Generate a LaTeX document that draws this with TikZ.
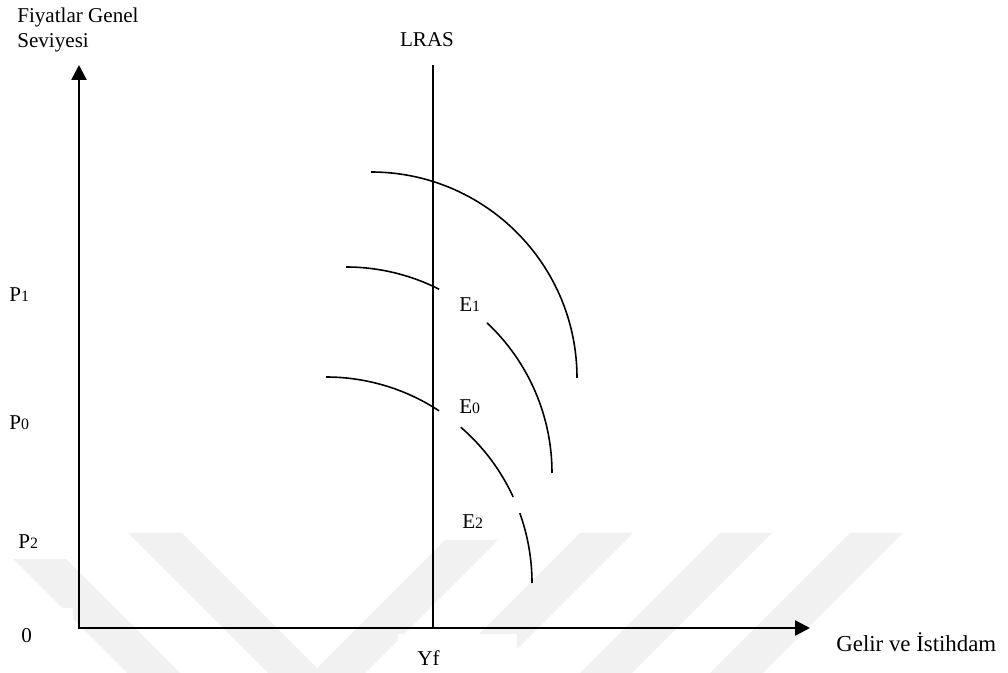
\documentclass[tikz,border=0pt]{standalone}
\usepackage{fontspec}
\setmainfont{Liberation Serif}
\usepackage{tikz}
\usetikzlibrary{arrows.meta}
\definecolor{wmgray}{RGB}{241,241,241}
\newcommand{\idx}[1]{{\fontsize{9}{10}\selectfont #1}}

\begin{document}
\begin{tikzpicture}[
  axisline/.style={line width=1.4pt, {Triangle[length=0.30cm, width=0.30cm]}-{Triangle[length=0.30cm, width=0.30cm]}},
  adcurve/.style={line width=0.9pt},
  lbl/.style={inner sep=0pt, anchor=base west, font=\fontsize{12}{14}\selectfont},
  stripe/.style={fill=wmgray, draw=none},
  mask/.style={fill=white, draw=none}
]
  \useasboundingbox (0,0) rectangle (20.16,13.46);

  % watermark in the background
  \fill[stripe] (-0.26,2.80) -- (0.80,2.80) -- (3.60,0) -- (2.54,0) -- cycle;
  \fill[stripe] (2.56,2.80) -- (3.64,2.80) -- (6.44,0) -- (5.36,0) -- cycle;
  \fill[stripe] (9.04,2.80) -- (10.10,2.80) -- (7.30,0) -- (6.24,0) -- cycle;
  \fill[stripe] (11.60,2.80) -- (12.66,2.80) -- (9.86,0) -- (8.80,0) -- cycle;
  \fill[stripe] (14.40,2.80) -- (15.44,2.80) -- (12.64,0) -- (11.60,0) -- cycle;
  \fill[stripe] (17.00,2.80) -- (18.06,2.80) -- (15.26,0) -- (14.20,0) -- cycle;
  \fill[mask] (-0.30,2.28) rectangle (1.50,2.90);
  \fill[mask] (-0.30,-0.10) rectangle (1.46,1.30);
  \fill[mask] (7.96,-0.10) rectangle (10.34,0.78);
  \fill[mask] (8.72,2.66) rectangle (10.40,3.54);

  % axes and LRAS
  \coordinate (O) at (1.58,0.90);
  \coordinate (ytop) at (1.58,12.16);
  \coordinate (xend) at (16.20,0.90);
  \coordinate (yf) at (8.66,0.90);
  \coordinate (lrastop) at (8.66,12.16);
  \draw[axisline] (ytop) -- (O) -- (xend);
  \draw[line width=0.7pt] (yf) -- (lrastop);

  % demand curves
  \coordinate (c1) at (7.42,5.90);
  \coordinate (c0) at (6.92,4.00);
  \coordinate (c2) at (6.52,1.80);
  \draw[adcurve] (c1) ++(90:4.12) arc[start angle=90, end angle=0, radius=4.12];
  \draw[adcurve] (c0) ++(90:4.12) arc[start angle=90, end angle=63.1, radius=4.12];
  \draw[adcurve] (c0) ++(46.8:4.12) arc[start angle=46.8, end angle=0, radius=4.12];
  \draw[adcurve] (c2) ++(90:4.12) arc[start angle=90, end angle=56.7, radius=4.12];
  \draw[adcurve] (c2) ++(49.1:4.12) arc[start angle=49.1, end angle=24.7, radius=4.12];
  \draw[adcurve] (c2) ++(19.8:4.12) arc[start angle=19.8, end angle=0, radius=4.12];

  % labels
  \node[inner sep=0pt, anchor=north west, align=left, font=\fontsize{12}{13.8}\selectfont] (ytitle) at (0.34,13.30) {Fiyatlar Genel\\Seviyesi};
  \node[lbl, anchor=base] (lras) at (8.54,12.52) {LRAS};
  \node[lbl] (p1) at (0.18,7.42) {P\idx{1}};
  \node[lbl] (p0) at (0.18,4.86) {P\idx{0}};
  \node[lbl] (p2) at (0.36,2.48) {P\idx{2}};
  \node[lbl] (zero) at (0.42,0.60) {0};
  \node[lbl] (e1) at (9.18,7.22) {E\idx{1}};
  \node[lbl] (e0) at (9.18,5.18) {E\idx{0}};
  \node[lbl] (e2) at (9.24,2.88) {E\idx{2}};
  \node[lbl] (yflbl) at (8.34,0.14) {Yf};
  \node[lbl, font=\fontsize{13}{15}\selectfont] (xtitle) at (16.72,0.42) {Gelir ve İstihdam};
\end{tikzpicture}
\end{document}
